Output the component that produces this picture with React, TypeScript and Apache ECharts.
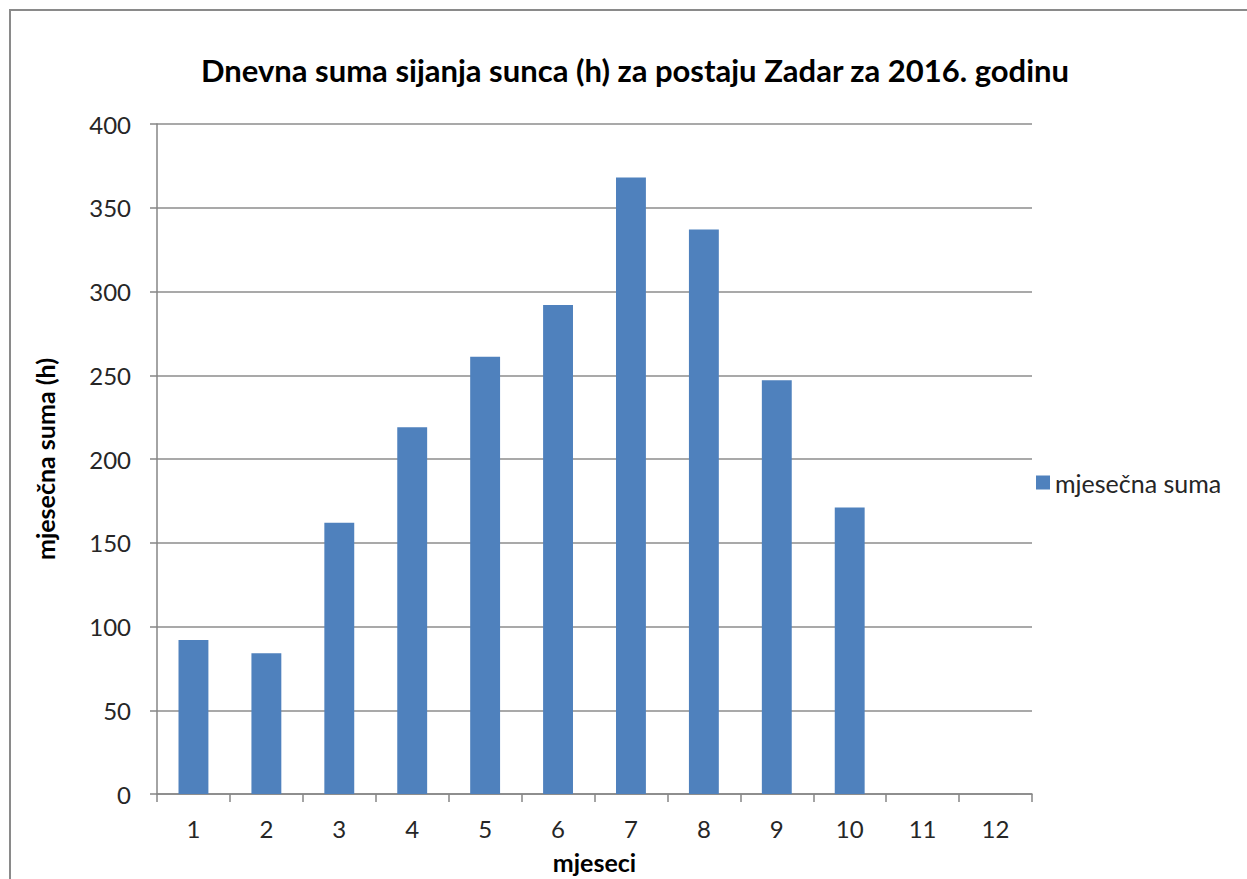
import React, { useEffect, useRef } from "react";
import * as echarts from "echarts";

const categories = ["1", "2", "3", "4", "5", "6", "7", "8", "9", "10", "11", "12"];
const monthlySum: (number | null)[] = [92, 84, 162, 219, 261, 292, 368, 337, 247, 171, null, null];
const seriesName = "mjesečna suma";
const titleText = "Dnevna suma sijanja sunca (h) za postaju Zadar za 2016. godinu";
const yAxisName = "mjesečna suma (h)";
const xAxisName = "mjeseci";

const FONT = "Lato, 'Open Sans', sans-serif";

export default function App() {
  const ref = useRef<HTMLDivElement>(null);
  useEffect(() => {
    if (!ref.current) return;
    const chart = echarts.init(ref.current, undefined, { renderer: "svg" });
    chart.setOption({
      animation: false,
      backgroundColor: "#ffffff",
      textStyle: { fontFamily: FONT },
      title: {
        text: titleText,
        left: 630,
        textAlign: "center",
        top: 49,
        textStyle: { fontFamily: FONT, fontSize: 31, fontWeight: "bold", color: "#000" },
      },
      legend: {
        data: [seriesName],
        left: 1031,
        top: 465,
        itemWidth: 14,
        itemHeight: 14,
        itemGap: 6,
        icon: "rect",
        textStyle: { fontFamily: FONT, fontSize: 25, color: "#262626" },
      },
      graphic: [
        {
          type: "rect",
          shape: { x: 10, y: 10, width: 1260, height: 900 },
          style: { fill: "none", stroke: "#8a8a8a", lineWidth: 2 },
          silent: true,
        },
      ],
      grid: { left: 157, right: 215, top: 124, bottom: 83 },
      xAxis: {
        type: "category",
        data: categories,
        boundaryGap: true,
        name: xAxisName,
        nameLocation: "middle",
        nameGap: 55,
        nameTextStyle: { fontFamily: FONT, fontSize: 25, fontWeight: "bold", color: "#000" },
        axisLine: { lineStyle: { color: "#868686", width: 1.5 } },
        axisTick: { show: true, alignWithLabel: false, length: 8, lineStyle: { color: "#868686", width: 1.5 } },
        axisLabel: { fontFamily: FONT, fontSize: 24, color: "#262626", margin: 22 },
        splitLine: { show: false },
      },
      yAxis: {
        type: "value",
        min: 0,
        max: 400,
        interval: 50,
        name: yAxisName,
        nameLocation: "middle",
        nameGap: 100,
        nameTextStyle: { fontFamily: FONT, fontSize: 25, fontWeight: "bold", color: "#000" },
        axisLine: { show: true, lineStyle: { color: "#868686", width: 1.5 } },
        axisTick: { show: true, length: 7, lineStyle: { color: "#868686", width: 1.5 } },
        axisLabel: { fontFamily: FONT, fontSize: 24, color: "#262626", margin: 26 },
        splitLine: { show: true, lineStyle: { color: "#8c8c8c", width: 1.5 } },
      },
      series: [
        {
          name: seriesName,
          type: "bar",
          data: monthlySum,
          barWidth: "41%",
          itemStyle: { color: "#4f81bd" },
        },
      ],
    });
    return () => chart.dispose();
  }, []);
  return (
    <div
      ref={ref}
      style={{ position: "fixed", left: 0, top: 0, width: 1247, height: 879, background: "#fff" }}
    />
  );
}
